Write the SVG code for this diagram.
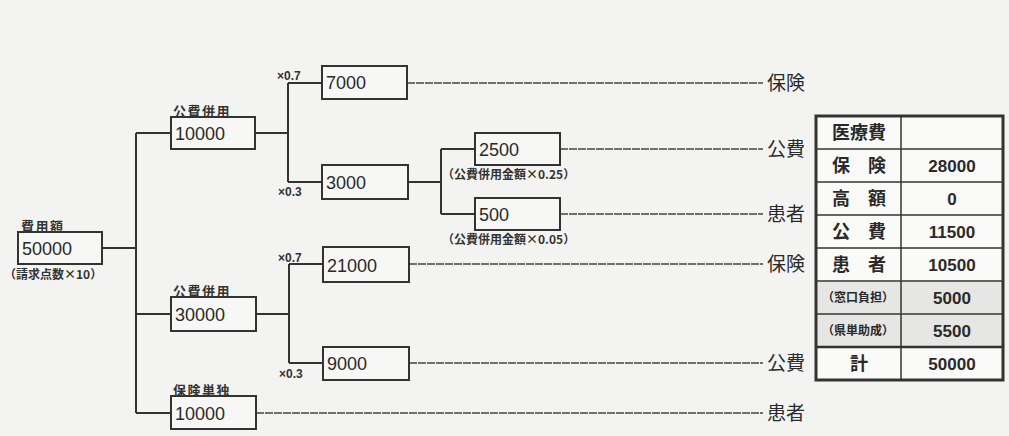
<svg xmlns="http://www.w3.org/2000/svg" width="1009" height="436" viewBox="0 0 1009 436">
<style>
.bx{fill:#f7f7f5;stroke:#333;stroke-width:2}
.num{font-family:"Liberation Sans",Arial,sans-serif;font-size:18px;fill:#2a2a2a}
.sm{font-family:"Liberation Sans","Noto Sans CJK JP",sans-serif;font-size:12px;font-weight:bold;fill:#333}
.lbl{font-family:"Noto Sans CJK JP",sans-serif;font-size:13px;font-weight:bold;fill:#333;letter-spacing:1.5px}
.note{font-family:"Noto Sans CJK JP",sans-serif;font-size:12px;font-weight:bold;fill:#333}
.dest{font-family:"Noto Sans CJK JP",sans-serif;font-size:19px;fill:#2a2a2a}
.ln{fill:none;stroke:#333;stroke-width:2}
.dl{fill:none;stroke:#444;stroke-width:1.6;stroke-dasharray:8 1}
.th{font-family:"Noto Sans CJK JP",sans-serif;font-size:18px;font-weight:bold;fill:#2a2a2a;text-anchor:middle}
.ths{font-family:"Noto Sans CJK JP",sans-serif;font-size:12px;font-weight:bold;fill:#2a2a2a;text-anchor:middle}
.tv{font-family:"Liberation Sans",Arial,sans-serif;font-size:17px;font-weight:bold;fill:#2a2a2a;text-anchor:middle}
.tl{stroke:#333;stroke-width:1.5}
</style>
<rect width="1009" height="436" fill="#f3f3f1"/>
<g id="connectors">
<path class="ln" d="M102 248H136M136 133V413M136 133H171M136 314H171M136 413H171"/>
<path class="ln" d="M255 133H288M288 83V182M288 83H322M288 182H322"/>
<path class="ln" d="M408 182H441M441 149V214M441 149H475M441 214H475"/>
<path class="ln" d="M256 314H289M289 264V363M289 264H323M289 363H323"/>
<path class="dl" d="M407 83H763M560 149H763M560 214H763M409 264H763M409 363H763M256 413H763"/>
<text class="sm" x="277" y="80">×0.7</text>
<text class="sm" x="278" y="196">×0.3</text>
<text class="sm" x="278" y="262">×0.7</text>
<text class="sm" x="279" y="378">×0.3</text>
</g>
<g id="root">
<rect class="bx" x="18" y="232" width="84" height="32"/>
<text class="lbl" x="21" y="231">費用額</text>
<text class="num" x="22" y="255">50000</text>
<text class="note" x="4" y="279">（請求点数×10）</text>
</g>
<g id="n1">
<rect class="bx" x="171" y="117" width="84" height="32"/>
<text class="lbl" x="173" y="116">公費併用</text>
<text class="num" x="175" y="140">10000</text>
</g>
<g id="n2">
<rect class="bx" x="171" y="297" width="85" height="34"/>
<text class="lbl" x="173" y="296">公費併用</text>
<text class="num" x="175" y="321">30000</text>
</g>
<g id="n3">
<rect class="bx" x="171" y="396" width="85" height="33"/>
<text class="lbl" x="173" y="395">保険単独</text>
<text class="num" x="175" y="420">10000</text>
</g>
<g id="n4"><rect class="bx" x="322" y="66" width="85" height="33"/><text class="num" x="326" y="89">7000</text></g>
<g id="n5"><rect class="bx" x="322" y="165" width="86" height="34"/><text class="num" x="326" y="189">3000</text></g>
<g id="n6"><rect class="bx" x="323" y="247" width="86" height="35"/><text class="num" x="327" y="272">21000</text></g>
<g id="n7"><rect class="bx" x="323" y="347" width="86" height="33"/><text class="num" x="327" y="370">9000</text></g>
<g id="n8"><rect class="bx" x="475" y="133" width="85" height="32"/><text class="num" x="479" y="156">2500</text>
<text class="note" x="442" y="179">（公費併用金額×0.25）</text></g>
<g id="n9"><rect class="bx" x="475" y="198" width="85" height="32"/><text class="num" x="479" y="221">500</text>
<text class="note" x="442" y="244">（公費併用金額×0.05）</text></g>
<g id="dests">
<text class="dest" x="767" y="90">保険</text>
<text class="dest" x="767" y="156">公費</text>
<text class="dest" x="767" y="221">患者</text>
<text class="dest" x="767" y="271">保険</text>
<text class="dest" x="767" y="370">公費</text>
<text class="dest" x="767" y="420">患者</text>
</g>
<g id="table">
<rect x="816" y="116" width="187" height="264" fill="#fafaf8"/>
<rect x="816" y="281" width="187" height="66" fill="#e6e6e4"/>
<line class="tl" x1="901" y1="116" x2="901" y2="380"/>
<line class="tl" x1="816" y1="149" x2="1003" y2="149"/>
<line class="tl" x1="816" y1="182" x2="1003" y2="182"/>
<line class="tl" x1="816" y1="215" x2="1003" y2="215"/>
<line class="tl" x1="816" y1="248" x2="1003" y2="248"/>
<line class="tl" x1="816" y1="281" x2="1003" y2="281"/>
<line class="tl" x1="816" y1="314" x2="1003" y2="314"/>
<line x1="816" y1="347" x2="1003" y2="347" stroke="#333" stroke-width="2.5"/>
<rect x="816" y="116" width="187" height="264" fill="none" stroke="#333" stroke-width="3"/>
<text class="th" x="859" y="139">医療費</text>
<text class="th" x="859" y="172">保　険</text>
<text class="tv" x="952" y="172">28000</text>
<text class="th" x="859" y="205">高　額</text>
<text class="tv" x="952" y="205">0</text>
<text class="th" x="859" y="238">公　費</text>
<text class="tv" x="952" y="238">11500</text>
<text class="th" x="859" y="271">患　者</text>
<text class="tv" x="952" y="271">10500</text>
<text class="ths" x="858" y="302">（窓口負担）</text>
<text class="tv" x="952" y="304">5000</text>
<text class="ths" x="858" y="335">（県単助成）</text>
<text class="tv" x="952" y="337">5500</text>
<text class="th" x="859" y="370">計</text>
<text class="tv" x="952" y="370">50000</text>
</g>
</svg>
